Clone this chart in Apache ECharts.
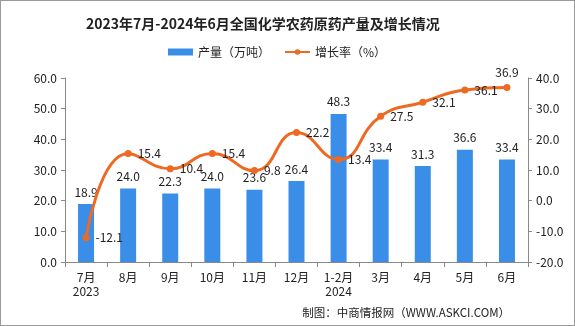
<!DOCTYPE html>
<html><head><meta charset="utf-8">
<script src="https://cdn.jsdelivr.net/npm/echarts@6/dist/echarts.min.js"></script>
<style>html,body{margin:0;padding:0;background:#fff}#c{width:573px;height:324px;border:1px solid #9a9a9a}</style>
</head><body><div id="c"></div>
<script>
const categories = ['7月\n2023','8月','9月','10月','11月','12月','1-2月\n2024','3月','4月','5月','6月'];
const production = [18.9,24.0,22.3,24.0,23.6,26.4,48.3,33.4,31.3,36.6,33.4];
const growth = [-12.1,15.4,10.4,15.4,9.8,22.2,13.4,27.5,32.1,36.1,36.9];
const leftTicks = {min:0,max:60,interval:10};
const rightTicks = {min:-20,max:40,interval:10};
const FONT = '"Noto Sans CJK SC", sans-serif';
const chart = echarts.init(document.getElementById('c'));
chart.setOption({
  animation:false,
  textStyle:{fontFamily:FONT},
  title:{text:'2023年7月-2024年6月全国化学农药原药产量及增长情况',left:80,top:11,
    textStyle:{fontSize:14,fontWeight:'bold',color:'#222',fontFamily:FONT}},
  legend:{top:40,left:162,itemGap:14,itemWidth:25,itemHeight:7,
    textStyle:{fontSize:12,color:'#222'},
    data:[{name:'产量（万吨）',icon:'rect'},{name:'增长率（%）'}]},
  graphic:[{type:'text',right:64,bottom:7,style:{text:'制图：中商情报网（WWW.ASKCI.COM）',fontSize:11.5,fill:'#222',fontFamily:FONT}}],
  grid:{left:64,right:46,top:77,bottom:63},
  xAxis:{type:'category',data:categories,
    axisLine:{lineStyle:{color:'#888'}},
    axisTick:{show:true,alignWithLabel:false,lineStyle:{color:'#888'}},
    axisLabel:{color:'#222',fontSize:12,interval:0,lineHeight:14}},
  yAxis:[
    {type:'value',min:leftTicks.min,max:leftTicks.max,interval:leftTicks.interval,
     axisLine:{show:true,lineStyle:{color:'#888'}},axisTick:{show:true,length:4,lineStyle:{color:'#888'}},
     splitLine:{show:false},axisLabel:{color:'#222',fontSize:12,margin:8,formatter:v=>v.toFixed(1)}},
    {type:'value',min:rightTicks.min,max:rightTicks.max,interval:rightTicks.interval,
     axisLine:{show:true,lineStyle:{color:'#888'}},axisTick:{show:true,length:4,lineStyle:{color:'#888'}},
     splitLine:{show:false},axisLabel:{color:'#222',fontSize:12,margin:8,formatter:v=>v.toFixed(1)}}
  ],
  series:[
    {name:'产量（万吨）',type:'bar',data:production,barWidth:16,
     itemStyle:{color:'#3b8ee8'},
     label:{show:true,position:'top',distance:6,color:'#222',fontSize:12,formatter:p=>p.value.toFixed(1)}},
    {name:'增长率（%）',type:'line',yAxisIndex:1,smooth:true,
     symbol:'circle',symbolSize:7,
     lineStyle:{color:'#ee6a23',width:3},itemStyle:{color:'#ee6a23'},
     label:{show:true,position:'right',distance:6,color:'#222',fontSize:12,
       formatter:p=>p.value.toFixed(1)},
     data:growth.map((v,i)=>i===growth.length-1?{value:v,label:{position:'top'}}:v)}
  ]
});
</script></body></html>
